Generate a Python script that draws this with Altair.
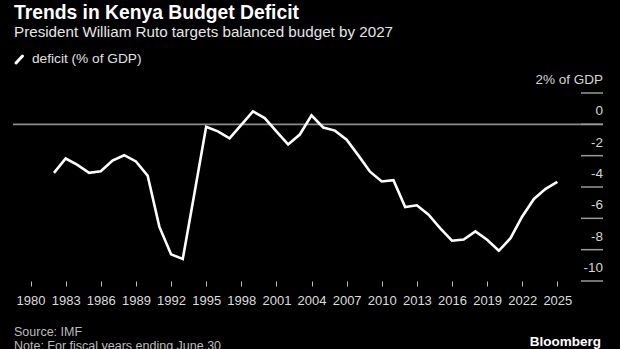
import altair as alt
import pandas as pd

years = list(range(1982, 2026))
deficit = [-3.1, -2.18, -2.59, -3.1, -2.99, -2.31, -1.97, -2.37, -3.27, -6.53,
           -8.3, -8.6, -4.4, -0.16, -0.45, -0.9, -0.04, 0.83, 0.4, -0.45,
           -1.28, -0.65, 0.57, -0.2, -0.4, -0.98, -1.98, -3.02, -3.65, -3.57,
           -5.28, -5.17, -5.77, -6.64, -7.43, -7.35, -6.83, -7.37, -8.07, -7.27,
           -5.88, -4.76, -4.12, -3.67]
x_ticks = list(range(1980, 2026, 3))
y_ticks = [2, 0, -2, -4, -6, -8, -10]
y_labels = ["2% of GDP", "0", "-2", "-4", "-6", "-8", "-10"]

title = "Trends in Kenya Budget Deficit"
subtitle = "President William Ruto targets balanced budget by 2027"
legend_label = "deficit (% of GDP)"
source = "Source: IMF"
note = "Note: For fiscal years ending June 30"
brand = "Bloomberg"

FONT = "Liberation Sans"
W, H = 590, 188

df = pd.DataFrame({"year": years, "deficit": deficit})
ticks_df = pd.DataFrame({"v": y_ticks, "label": y_labels})

xscale = alt.Scale(domain=[1978.5, 2028.9], nice=False, zero=False)
yscale = alt.Scale(domain=[-10, 2], nice=False, zero=False)

line = alt.Chart(df).mark_line(color="white", strokeWidth=2.6, strokeJoin="miter").encode(
    x=alt.X("year:Q", scale=xscale,
            axis=alt.Axis(values=x_ticks, format="d", title=None, domain=False, grid=False,
                          tickSize=5, tickColor="#bbbbbb", tickWidth=1,
                          labelFont=FONT, labelFontSize=13, labelColor="#dddddd",
                          labelPadding=8, labelFlush=False, labelOverlap=False)),
    y=alt.Y("deficit:Q", scale=yscale, axis=None),
)

zero = alt.Chart(pd.DataFrame({"v": [0]})).mark_rule(color="#8c8c8c", strokeWidth=1.6).encode(
    y=alt.Y("v:Q", scale=yscale, axis=None), x=alt.value(0), x2=alt.value(W)
)

yt = alt.Chart(ticks_df).mark_rule(color="#9a9a9a", strokeWidth=1.5).encode(
    y=alt.Y("v:Q", scale=yscale, axis=None), x=alt.value(W - 22), x2=alt.value(W)
)

ylab = alt.Chart(ticks_df).mark_text(font=FONT, fontSize=13.5, color="#d6d6d6",
                                     align="right", baseline="middle", dy=-13).encode(
    y=alt.Y("v:Q", scale=yscale, axis=None), x=alt.value(W), text="label:N"
)

def txt(s, x, y, size, color, weight="normal", align="left"):
    return alt.Chart(pd.DataFrame({"t": [s]})).mark_text(
        font=FONT, fontSize=size, color=color, fontWeight=weight,
        align=align, baseline="middle").encode(
        x=alt.value(x), y=alt.value(y), text="t:N")

icon = alt.Chart(pd.DataFrame({"a": [0]})).mark_rule(
    color="white", strokeWidth=3, strokeCap="round").encode(
    x=alt.value(3), y=alt.value(-30), x2=alt.value(9.5), y2=alt.value(-37))

chart = alt.layer(
    zero, yt, ylab, line,
    txt(title, 1, -80, 19.3, "white", "bold"),
    txt(subtitle, 1, -61, 15.2, "#e6e6e6"),
    icon,
    txt(legend_label, 19, -34, 13.7, "#e0e0e0"),
    txt(source, 1, 239, 12.5, "#bdbdbd"),
    txt(note, 1, 253, 12.5, "#bdbdbd"),
    txt(brand, 588, 249, 13.5, "white", "bold", "right"),
).properties(
    width=W, height=H,
    autosize=alt.AutoSizeParams(type="none"),
    padding={"left": 13, "top": 93, "right": 17, "bottom": 68},
    background="black",
).configure_view(stroke=None)

chart.save("out.html", embed_options={"renderer": "svg", "actions": False})
